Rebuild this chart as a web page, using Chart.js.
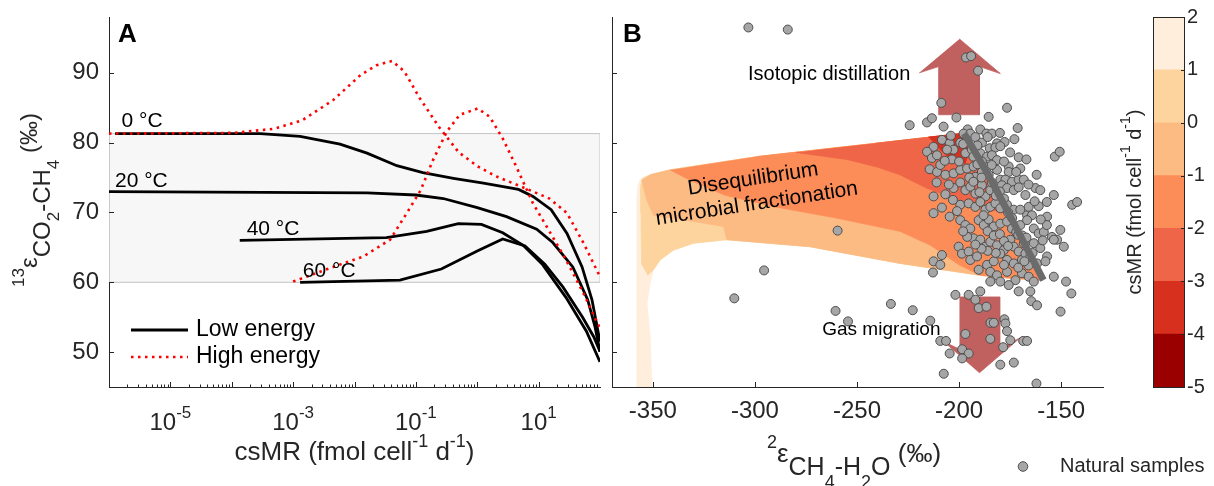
<!DOCTYPE html>
<html>
<head>
<meta charset="utf-8">
<script src="https://cdn.jsdelivr.net/npm/chart.js@4.4.1/dist/chart.umd.min.js"></script>
<style>
  html, body { margin: 0; padding: 0; background: #fff; }
  #wrap { position: relative; width: 1214px; height: 486px; overflow: hidden; }
  canvas { position: absolute; top: 0; }
  #panel-a { left: 0; }
  #panel-b { left: 600px; }
  #colorbar { left: 1120px; }
</style>
</head>
<body>
<div id="wrap">
  <canvas id="panel-a" width="610" height="486"></canvas>
  <canvas id="panel-b" width="614" height="486"></canvas>
  <canvas id="colorbar" width="94" height="486"></canvas>
</div>
<script>
// ---- panel A : csMR vs 13-epsilon ----
let low0x = [1.26e-6, 2.9e-4, 1.3e-3, 5.8e-3, 0.016, 0.049, 0.13, 0.41, 1.26, 4.7, 8.1, 16, 29, 51, 74, 100];
let low0y = [81.3, 81.3, 80.9, 79.8, 78.5, 76.7, 75.7, 74.9, 74.2, 73.3, 72.3, 70.4, 67.0, 62.2, 57.5, 51.5];
let low20x = [1e-6, 0.016, 0.1, 0.28, 1.0, 3.0, 9.3, 17, 36, 63, 83, 100];
let low20y = [73.0, 72.8, 72.5, 72.0, 70.7, 69.4, 67.6, 65.7, 62.2, 57.5, 53.6, 50.05];
let low40x = [1.35e-4, 0.033, 0.15, 0.49, 1.17, 2.6, 5.6, 11.7, 28, 60, 100];
let low40y = [66.0, 66.4, 67.3, 68.4, 68.3, 67.1, 65.3, 62.5, 57.8, 53.0, 48.6];
let low60x = [1.3e-3, 0.055, 0.26, 1.02, 2.6, 6.0, 12.6, 25, 52, 79, 100];
let low60y = [60.0, 60.3, 61.9, 64.5, 66.2, 65.2, 62.6, 59.3, 55.0, 52.2, 50.1];
let high0x = [1e-6, 1.1e-4, 5e-4, 1.4e-3, 4.5e-3, 0.0126, 0.023, 0.041, 0.065, 0.115, 0.24, 0.5, 1.02, 2.0, 4.9, 8.1, 15, 22, 29, 54, 100];
let high0y = [81.3, 81.4, 82.0, 83.2, 86.1, 89.7, 91.1, 91.7, 90.2, 86.4, 82.2, 78.6, 76.6, 75.2, 73.8, 73.0, 72.0, 70.8, 69.9, 65.6, 60.8];
let high60x = [1e-3, 4.5e-3, 0.014, 0.038, 0.071, 0.12, 0.19, 0.32, 0.52, 1.02, 1.6, 2.6, 4.1, 8.1, 15, 28, 54, 100];
let high60y = [60.1, 62.2, 63.7, 66.1, 69.9, 73.2, 77.5, 81.6, 84.0, 84.9, 83.7, 80.6, 77.0, 71.3, 67.3, 63.2, 58.4, 53.4];
let rangeX = [1e-6, 100];
let rangeY = [60, 81.3];
let tempLabels = ['0 °C', '20 °C', '40 °C', '60 °C'];
let tempLabelX = [1.6e-6, 1.25e-6, 1.75e-4, 1.44e-3];
let tempLabelY = [82.3, 73.7, 66.8, 60.8];
let yTicks = [50, 60, 70, 80, 90];
let logLabelExps = [-5, -3, -1, 1];

// ---- panel B : 2-epsilon vs 13-epsilon ----
let xTicksB = [-350, -300, -250, -200, -150];
let band0 = [[-357.8,45],[-357.8,72.0],[-357.3,73.8],[-356,74.8],[-351.3,75.4],[-341.5,76.1],[-299,78.0],[-241,79.9],[-199,81.3],[-190,77.5],[-180,72.0],[-170,66.2],[-162,61.3],[-159,60.3],[-175,60.6],[-189.5,61.0],[-228.7,62.7],[-273,65.1],[-313.7,66.1],[-330,65.6],[-340,64.6],[-346.4,63.2],[-349.7,61.8],[-351.3,59.9],[-352.9,57.0],[-351.3,52.2],[-350.5,45]];
let band1 = [[-355.5,62.5],[-355.8,70],[-356,73.8],[-355,74.9],[-351.3,75.4],[-341.5,76.1],[-299,78.0],[-241,79.9],[-199,81.3],[-190,77.5],[-180,72.0],[-170,66.2],[-162,61.3],[-159,60.3],[-175,60.6],[-189.5,61.0],[-228.7,62.7],[-273,65.1],[-313.7,66.1],[-330,65.6],[-340,64.6],[-346.4,63.2],[-349.7,61.8],[-352.5,61.0]];
let band2 = [[-355.4,74.6],[-353,71.8],[-349.7,69.6],[-330,68.7],[-315.4,68.0],[-313.7,66.1],[-273,65.1],[-228.7,62.7],[-189.5,61.0],[-175,60.6],[-159,60.3],[-162,61.3],[-170,66.2],[-180,72.0],[-190,77.5],[-199,81.3],[-241,79.9],[-299,78.0],[-341.5,76.1],[-351.3,75.4]];
let band3 = [[-341.5,76.1],[-333,74.8],[-315,72.5],[-290,70.8],[-260,69.2],[-229,67.3],[-214,65.3],[-200,62.5],[-189.5,61.0],[-175,60.6],[-159,60.3],[-162,61.3],[-170,66.2],[-180,72.0],[-190,77.5],[-199,81.3],[-241,79.9],[-299,78.0]];
let band4 = [[-280,78.6],[-255,77.6],[-240,76.5],[-229,75.4],[-216,73.5],[-200,71.8],[-188,70.6],[-176,69.8],[-180,72.0],[-190,77.5],[-199,81.3],[-241,79.9]];
let band5 = [[-215,80.8],[-199,81.3],[-195,78.8],[-197,77.0],[-204,77.6],[-210,79.2]];
let trendLine = [[-197.5,81.3],[-185,75.0],[-172,67.8],[-158.7,60.3]];
let arrowUp = [[-199.8,94.85],[-179.8,89.9],[-190,90.9],[-190,84.0],[-210,84.0],[-210,90.9],[-219.5,90.0]];
let arrowDown = [[-199.8,57.9],[-180.1,57.9],[-180.1,50.6],[-170.3,52.0],[-190,47.05],[-207.5,51.5],[-199.8,50.4]];
let naturalSamples = [
  [-303.2,96.5],[-283.9,96.2],[-196.6,92.2],[-194.1,92.4],[-190.7,90.3],[-208.7,85.7],[-176.5,85.0],
  [-259.5,67.4],[-295.5,61.7],[-310.1,57.7],[-260.5,55.9],[-254.4,54.4],
  [-224.2,82.5],[-215.7,82.9],[-213.3,83.5],[-207.6,82.3],[-201.3,83.6],[-195.8,81.9],[-189.6,81.9],[-185.5,83.7],[-186.6,81.3],[-183.9,81.3],[-171.3,82.1],
  [-212.5,79.4],[-208.4,80.4],[-204.6,79.9],[-202.7,79.0],[-199.4,80.0],[-197.8,81.3],[-194.5,81.3],[-192.0,80.8],[-188.8,80.0],[-186.0,80.8],[-181.4,79.9],[-177.7,80.1],[-172.9,80.5],[-185.0,79.2],[-182.2,79.3],[-179.8,79.5],
  [-215.7,78.7],[-213.3,77.8],[-210.8,78.2],[-205.9,79.0],[-203.5,77.6],[-196.9,78.5],[-193.7,79.0],[-189.6,78.5],[-186.3,78.0],[-183.9,78.2],[-188.8,77.3],[-181.4,77.5],[-170.8,77.9],[-167.0,77.6],[-153.1,78.0],[-150.7,78.7],
  [-214.4,76.2],[-210.8,75.8],[-209.2,76.8],[-206.7,75.4],[-202.7,75.6],[-199.4,76.1],[-196.1,76.3],[-192.9,76.6],[-192.0,75.1],[-188.8,75.8],[-185.5,75.4],[-181.4,76.1],[-175.7,76.6],[-175.7,75.8],[-170.0,76.3],[-179.8,74.7],[-177.3,74.7],[-174.1,74.4],[-170.8,74.7],[-168.3,74.7],
  [-212.5,72.3],[-206.7,72.6],[-202.7,73.5],[-199.4,74.3],[-196.9,73.2],[-194.5,73.7],[-192.0,72.7],[-188.8,73.9],[-187.1,72.3],[-184.7,73.2],[-181.4,73.3],[-179.0,73.9],[-176.5,73.5],[-173.2,73.2],[-170.8,73.6],[-167.5,72.5],[-162.6,73.5],[-160.2,73.2],[-153.6,72.5],[-144.6,71.1],[-142.2,71.5],
  [-212.5,69.9],[-208.4,70.7],[-204.6,69.4],[-199.4,71.1],[-195.3,71.3],[-192.0,70.8],[-189.6,71.5],[-187.1,70.4],[-184.7,70.8],[-182.2,71.3],[-179.8,70.6],[-176.5,71.1],[-173.2,70.4],[-170.0,70.4],[-166.7,69.6],[-165.9,70.8],[-164.3,69.6],[-161.0,70.9],[-156.9,69.4],
  [-199.4,68.9],[-196.9,68.2],[-194.5,67.7],[-190.4,68.9],[-187.9,68.2],[-185.5,69.0],[-183.0,68.0],[-179.8,68.4],[-176.5,68.7],[-174.1,67.7],[-170.0,68.2],[-166.7,68.9],[-163.4,67.7],[-161.0,67.0],[-158.5,67.2],[-154.5,66.5],[-152.0,66.1],[-150.4,67.5],[-148.7,65.1],
  [-200.2,65.1],[-198.6,64.1],[-195.3,64.4],[-192.9,66.3],[-189.6,66.1],[-187.1,65.1],[-184.7,65.8],[-181.4,65.3],[-178.1,64.6],[-174.9,66.1],[-173.2,65.1],[-170.8,64.4],[-168.3,65.6],[-163.4,65.6],[-160.2,64.9],[-156.9,63.7],[-153.6,66.1],
  [-212.5,63.0],[-208.4,63.9],[-209.2,62.5],[-194.5,63.2],[-191.2,63.7],[-186.3,62.5],[-183.0,63.0],[-179.8,64.1],[-176.5,63.2],[-173.2,62.7],[-169.2,63.2],[-167.5,64.1],[-165.1,63.7],[-161.8,62.7],[-157.7,63.0],
  [-212.8,61.4],[-190.4,61.8],[-184.7,61.5],[-181.4,61.0],[-176.5,61.5],[-172.4,60.3],[-169.2,61.3],[-165.9,60.8],[-163.4,60.1],[-153.6,60.8],[-147.6,60.1],[-145.0,58.4],[-184.7,60.1],[-179.8,60.1],[-175.7,59.6],[-170.8,58.7],[-165.1,58.7],[-201.8,58.2],[-195.3,58.2],[-189.6,58.7],
  [-164.6,57.3],[-161.8,56.7],[-150.3,55.8],[-233.4,56.9],[-222.7,56.0],[-214.1,54.5],[-192.0,57.5],[-190.4,56.3],[-186.6,56.5],[-184.6,54.2],[-183.0,54.2],[-177.8,54.7],[-177.3,54.1],[-176.5,53.0],[-174.9,51.7],[-168.6,51.6],[-166.7,51.6],[-178.4,50.7],[-196.9,52.6],[-184.7,51.9],[-198.5,50.4],[-195.3,49.8],[-198.5,49.1],[-204.6,49.8],[-209.2,51.6],[-206.4,51.6],[-179.8,48.2],[-173.2,48.5],[-207.5,46.9],[-162.1,45.5],
  [-198,79.8],[-193,78.0],[-191,76.9],[-189,75.0],[-186,76.5],[-184,74.3],[-182,72.4],[-180,73.0],[-178,72.0],[-176,70.0],[-174,69.2],[-172,67.2],[-171,66.8],[-169,66.7],[-167,66.4],[-166,62.4],[-171,62.1],[-178,62.5],[-182,64.2],[-186,64.5],[-189,64.8],[-192,65.4],[-196,66.5],[-198,67.3],[-201,70.2],[-203,71.8],[-205,74.0],[-207,77.4],[-211,74.3],[-200,77.3],[-195,75.0],[-193,74.4],[-190,72.9],[-188,69.6],[-186,67.3],[-183,66.7],[-180,66.9],[-178,65.9],[-176,65.2],[-168,63.0],[-164,64.2],[-159,66.0],[-157,68.2],[-160,69.0],[-163,71.6],[-166,74.0],[-172,75.8],[-178,77.3],[-184,76.8],[-191,79.6],[-204,81.0],[-180,81.4],[-175,78.6],[-162,75.4],[-157,71.5]
];

// ---- colorbar : log10 csMR ----
let cbEdges = [-5, -4, -3, -2, -1, 0, 1, 2];
let cbColors = ['#9a0000', '#d7301f', '#ef6548', '#fc8d59', '#fdbb84', '#fdd49e', '#feeedb'];

const FONT = "'Liberation Sans', Arial, Helvetica, sans-serif";
const AX = '#262626';
Chart.defaults.font.family = FONT;
Chart.defaults.color = AX;

function richText(ctx, parts, x, y, rot, align) {
  ctx.save();
  ctx.translate(x, y);
  ctx.rotate(rot || 0);
  ctx.textBaseline = 'alphabetic';
  ctx.textAlign = 'left';
  let w = 0;
  parts.forEach(p => { ctx.font = p[1] + 'px ' + FONT; w += ctx.measureText(p[0]).width; });
  let cx = align === 'left' ? 0 : (align === 'right' ? -w : -w / 2);
  parts.forEach(p => {
    ctx.font = p[1] + 'px ' + FONT;
    ctx.fillText(p[0], cx, p[2]);
    cx += ctx.measureText(p[0]).width;
  });
  ctx.restore();
}

let toPts = (xs, ys) => xs.map((x, i) => ({x: x, y: ys[i]}));
let pairPts = arr => arr.map(p => ({x: p[0], y: p[1]}));

let curve = (xs, ys, red, order) => ({
  data: toPts(xs, ys),
  borderColor: red ? '#ff0000' : '#000000',
  borderWidth: red ? 2.6 : 2.8,
  borderDash: red ? [2.5, 4.5] : [],
  pointRadius: 0, fill: false, tension: 0, order: order
});

let poly = (arr, color, order) => ({
  data: pairPts(arr),
  borderColor: color, borderWidth: 0.8, backgroundColor: color,
  fill: 'shape', pointRadius: 0, tension: 0, order: order
});

// ---------- panel A ----------
const panelAExtras = {
  id: 'panelAExtras',
  afterDraw(chart) {
    const ctx = chart.ctx, xs = chart.scales.x, ys = chart.scales.y, a = chart.chartArea;
    ctx.save();
    ctx.strokeStyle = AX; ctx.lineWidth = 1;
    ctx.beginPath();
    for (let e = -6; e < 2; e++) {
      for (let m = 1; m < 10; m++) {
        const px = Math.round(xs.getPixelForValue(m * Math.pow(10, e))) + 0.5;
        const len = m === 1 ? 5 : 2.5;
        ctx.moveTo(px, a.bottom); ctx.lineTo(px, a.bottom - len);
      }
    }
    yTicks.forEach(v => {
      const py = Math.round(ys.getPixelForValue(v)) + 0.5;
      ctx.moveTo(a.left, py); ctx.lineTo(a.left + 5, py);
    });
    ctx.stroke();

    // log tick labels
    ctx.fillStyle = AX;
    logLabelExps.forEach(e => {
      richText(ctx, [['10', 24, 0], [String(e), 17, -12]], xs.getPixelForValue(Math.pow(10, e)), 430, 0);
    });
    // axis titles
    richText(ctx, [['csMR (fmol cell', 26, 0], ['-1', 18, -13], [' d', 26, 0], ['-1', 18, -13], [')', 26, 0]], (a.left + a.right) / 2, 460, 0);
    richText(ctx, [['13', 17, -13], ['ε', 24, 0], ['CO', 24, 13], ['2', 17, 22], ['-CH', 24, 13], ['4', 17, 22], [' (‰)', 24, 0]], 37, 200, -Math.PI / 2);

    // panel tag and temperature labels
    ctx.fillStyle = '#000';
    ctx.font = 'bold 26px ' + FONT;
    ctx.textBaseline = 'alphabetic'; ctx.textAlign = 'left';
    ctx.fillText('A', 118, 42);
    ctx.font = '21px ' + FONT;
    tempLabels.forEach((t, i) => {
      ctx.fillText(t, xs.getPixelForValue(tempLabelX[i]), ys.getPixelForValue(tempLabelY[i]));
    });

    // legend
    ctx.lineWidth = 3; ctx.strokeStyle = '#000';
    ctx.beginPath(); ctx.moveTo(131, 330); ctx.lineTo(188, 330); ctx.stroke();
    ctx.lineWidth = 2.6; ctx.strokeStyle = '#ff0000'; ctx.setLineDash([2.5, 4.5]);
    ctx.beginPath(); ctx.moveTo(131, 357); ctx.lineTo(188, 357); ctx.stroke();
    ctx.setLineDash([]);
    ctx.font = '23px ' + FONT; ctx.textBaseline = 'middle';
    ctx.fillText('Low energy', 196, 330);
    ctx.fillText('High energy', 196, 357);
    ctx.restore();
  }
};

new Chart(document.getElementById('panel-a'), {
  type: 'line',
  data: {
    datasets: [
      curve(high0x, high0y, true, 1),
      curve(high60x, high60y, true, 2),
      curve(low0x, low0y, false, 3),
      curve(low20x, low20y, false, 4),
      curve(low40x, low40y, false, 5),
      curve(low60x, low60y, false, 6),
      {
        data: [
          {x: rangeX[0], y: rangeY[0]}, {x: rangeX[1], y: rangeY[0]},
          {x: rangeX[1], y: rangeY[1]}, {x: rangeX[0], y: rangeY[1]}, {x: rangeX[0], y: rangeY[0]}
        ],
        borderColor: '#c4c4c4', borderWidth: 1, backgroundColor: '#f7f7f7',
        fill: 'shape', pointRadius: 0, tension: 0, order: 10
      }
    ]
  },
  options: {
    responsive: false, animation: false, events: [],
    layout: { padding: { left: 0, right: 10, top: 17, bottom: 0 } },
    plugins: { legend: { display: false }, tooltip: { enabled: false } },
    scales: {
      x: {
        type: 'logarithmic', min: 1e-6, max: 100,
        grid: { display: false, drawTicks: false },
        border: { color: AX, width: 1 },
        ticks: { display: false },
        afterFit: s => { s.height = 99; }
      },
      y: {
        type: 'linear', min: 45, max: 98,
        afterBuildTicks: s => { s.ticks = yTicks.map(v => ({value: v})); },
        grid: { display: false, drawTicks: false },
        border: { color: AX, width: 1 },
        ticks: { font: { size: 24 }, color: AX, padding: 10 },
        afterFit: s => { s.width = 109; s.paddingTop = 0; s.paddingBottom = 0; }
      }
    }
  },
  plugins: [panelAExtras]
});

// ---------- panel B ----------
const panelBExtras = {
  id: 'panelBExtras',
  afterDraw(chart) {
    const ctx = chart.ctx, xs = chart.scales.x, ys = chart.scales.y, a = chart.chartArea;
    ctx.save();
    ctx.strokeStyle = AX; ctx.lineWidth = 1;
    ctx.beginPath();
    xTicksB.forEach(v => {
      const px = Math.round(xs.getPixelForValue(v)) + 0.5;
      ctx.moveTo(px, a.bottom); ctx.lineTo(px, a.bottom - 5);
    });
    yTicks.forEach(v => {
      const py = Math.round(ys.getPixelForValue(v)) + 0.5;
      ctx.moveTo(a.left, py); ctx.lineTo(a.left + 5, py);
    });
    ctx.stroke();

    ctx.fillStyle = AX;
    richText(ctx, [['2', 18, -14], ['ε', 26, 0], ['CH', 25, 13], ['4', 18, 26], ['-H', 25, 13], ['2', 18, 26], ['O', 25, 13], [' (‰)', 26, 0]], 254, 462, 0);

    ctx.fillStyle = '#000';
    ctx.font = 'bold 26px ' + FONT;
    ctx.textBaseline = 'alphabetic'; ctx.textAlign = 'left';
    ctx.fillText('B', 23, 42);

    ctx.font = '20px ' + FONT;
    ctx.textBaseline = 'middle'; ctx.textAlign = 'right';
    ctx.fillText('Isotopic distillation', xs.getPixelForValue(-223.9), ys.getPixelForValue(89.8));
    ctx.font = '19px ' + FONT;
    ctx.fillText('Gas migration', xs.getPixelForValue(-209.1), ys.getPixelForValue(53.2));

    ctx.save();
    ctx.translate(xs.getPixelForValue(-300), ys.getPixelForValue(73.0));
    ctx.rotate(-8.6 * Math.PI / 180);
    ctx.textAlign = 'center';
    ctx.font = '21px ' + FONT;
    ctx.fillText('Disequilibrium', 0, -12.5);
    ctx.fillText('microbial fractionation', 0, 12.5);
    ctx.restore();

    // legend
    ctx.beginPath();
    ctx.arc(423, 466.5, 4.8, 0, Math.PI * 2);
    ctx.fillStyle = '#a6a6a6'; ctx.fill();
    ctx.strokeStyle = '#4d4d4d'; ctx.lineWidth = 1; ctx.stroke();
    ctx.fillStyle = AX;
    ctx.font = '20px ' + FONT; ctx.textAlign = 'left'; ctx.textBaseline = 'middle';
    ctx.fillText('Natural samples', 460, 466);
    ctx.restore();
  }
};

new Chart(document.getElementById('panel-b'), {
  type: 'line',
  data: {
    datasets: [
      {
        data: pairPts(trendLine), borderColor: '#6b6b6b', borderWidth: 7,
        pointRadius: 0, fill: false, tension: 0.2, order: 1
      },
      {
        type: 'scatter', data: pairPts(naturalSamples),
        pointRadius: 4.5, pointBackgroundColor: '#a6a6a6', pointBorderColor: '#4d4d4d',
        pointBorderWidth: 1, showLine: false, order: 2
      },
      poly(arrowUp, '#c0605f', 3),
      poly(arrowDown, '#c0605f', 3),
      poly(band5, cbColors[1], 4),
      poly(band4, cbColors[2], 5),
      poly(band3, cbColors[3], 6),
      poly(band2, cbColors[4], 7),
      poly(band1, cbColors[5], 8),
      poly(band0, cbColors[6], 9)
    ]
  },
  options: {
    responsive: false, animation: false, events: [],
    layout: { padding: { left: 0, right: 111, top: 17, bottom: 0 } },
    plugins: { legend: { display: false }, tooltip: { enabled: false } },
    scales: {
      x: {
        type: 'linear', min: -370, max: -129.5,
        afterBuildTicks: s => { s.ticks = xTicksB.map(v => ({value: v})); },
        grid: { display: false, drawTicks: false },
        border: { color: AX, width: 1 },
        ticks: { font: { size: 24 }, color: AX, padding: 10, maxRotation: 0 },
        afterFit: s => { s.height = 99; }
      },
      y: {
        type: 'linear', min: 45, max: 98,
        grid: { display: false, drawTicks: false },
        border: { color: AX, width: 1 },
        ticks: { display: false },
        afterFit: s => { s.width = 12; }
      }
    }
  },
  plugins: [panelBExtras]
});

// ---------- colorbar ----------
const colorbarExtras = {
  id: 'colorbarExtras',
  afterDraw(chart) {
    const ctx = chart.ctx, ys = chart.scales.y, a = chart.chartArea;
    ctx.save();
    ctx.strokeStyle = AX; ctx.lineWidth = 1;
    ctx.strokeRect(Math.round(a.left) + 0.5, Math.round(a.top) + 0.5, Math.round(a.right - a.left), Math.round(a.bottom - a.top));
    ctx.beginPath();
    cbEdges.forEach(v => {
      const py = Math.round(ys.getPixelForValue(v)) + 0.5;
      ctx.moveTo(a.right, py); ctx.lineTo(a.right - 3, py);
    });
    ctx.stroke();
    ctx.fillStyle = AX;
    richText(ctx, [['csMR (fmol cell', 20, 0], ['-1', 14, -11], [' d', 20, 0], ['-1', 14, -11], [')', 20, 0]], 21, 202, -Math.PI / 2);
    ctx.restore();
  }
};

new Chart(document.getElementById('colorbar'), {
  type: 'bar',
  data: {
    labels: [''],
    datasets: cbColors.map((c, i) => ({
      data: [[cbEdges[i], cbEdges[i + 1]]],
      backgroundColor: c, borderWidth: 0,
      barPercentage: 1, categoryPercentage: 1, grouped: false
    }))
  },
  options: {
    responsive: false, animation: false, events: [],
    layout: { padding: { left: 33, right: 0, top: 17, bottom: 99 } },
    plugins: { legend: { display: false }, tooltip: { enabled: false } },
    scales: {
      x: { display: false },
      y: {
        position: 'right', min: -5, max: 2,
        afterBuildTicks: s => { s.ticks = cbEdges.map(v => ({value: v})); },
        grid: { display: false, drawTicks: false },
        border: { display: false },
        ticks: { font: { size: 20 }, color: AX, padding: 3 },
        afterFit: s => { s.width = 30; s.paddingTop = 0; s.paddingBottom = 0; }
      }
    }
  },
  plugins: [colorbarExtras]
});
</script>
</body>
</html>
